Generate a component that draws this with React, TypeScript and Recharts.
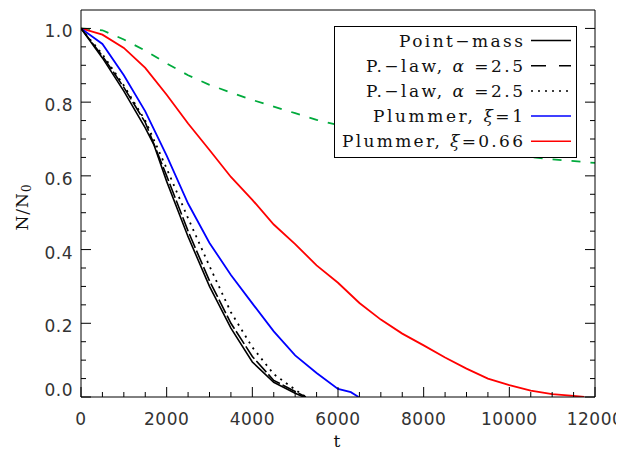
import React from 'react'
import { LineChart, Line, XAxis, YAxis, Legend } from 'recharts'

// point-mass and power-law runs (black)
const tBlack = [0, 500, 1000, 1500, 1700, 2000, 2500, 3000, 3500, 4000, 4500, 5000, 5200]
const pointMass = [1.0, 0.92, 0.83, 0.73, 0.685, 0.585, 0.435, 0.3, 0.187, 0.095, 0.04, 0.01, 0.0]
const tPlaw = [0, 500, 1000, 1500, 2000, 2500, 3000, 3500, 4000, 4500, 5000, 5250]
const plawDashed = [1.0, 0.925, 0.84, 0.745, 0.6, 0.45, 0.315, 0.2, 0.11, 0.045, 0.015, 0.0]
const plawDotted = [1.0, 0.93, 0.845, 0.75, 0.62, 0.485, 0.355, 0.23, 0.135, 0.062, 0.02, 0.0]

// plummer runs
const tBlue = [0, 500, 1000, 1500, 2000, 2500, 3000, 3500, 4000, 4500, 5000, 5500, 6000, 6300, 6480]
const plummer1 = [1.0, 0.958, 0.873, 0.775, 0.655, 0.525, 0.418, 0.331, 0.254, 0.178, 0.113, 0.065, 0.022, 0.013, 0.0]
const tRed = [0, 500, 1000, 1500, 2000, 2500, 3000, 3500, 4000, 4500, 5000, 5500, 6000, 6500, 7000, 7500, 8000, 8500, 9000, 9500, 10000, 10500, 11000, 11500, 11750]
const plummer066 = [1.0, 0.983, 0.947, 0.893, 0.82, 0.742, 0.67, 0.597, 0.535, 0.468, 0.415, 0.357, 0.31, 0.255, 0.21, 0.172, 0.14, 0.107, 0.077, 0.05, 0.032, 0.017, 0.008, 0.003, 0.0]

// green dashed (not in legend)
const tGreen = [0, 500, 1000, 1500, 2000, 2500, 3000, 3500, 4000, 4500, 5000, 5500, 6000, 7000, 8000, 9000, 10000, 11000, 12000]
const greenRun = [1.0, 0.995, 0.97, 0.94, 0.905, 0.873, 0.847, 0.826, 0.806, 0.788, 0.77, 0.752, 0.738, 0.713, 0.69, 0.672, 0.657, 0.645, 0.635]

const xTicks = [0, 500, 1000, 1500, 2000, 2500, 3000, 3500, 4000, 4500, 5000, 5500, 6000, 6500, 7000, 7500, 8000, 8500, 9000, 9500, 10000, 10500, 11000, 11500, 12000]
const xLabels = [0, 2000, 4000, 6000, 8000, 10000, 12000]
const yTicks = [0, 0.05, 0.1, 0.15, 0.2, 0.25, 0.3, 0.35, 0.4, 0.45, 0.5, 0.55, 0.6, 0.65, 0.7, 0.75, 0.8, 0.85, 0.9, 0.95, 1.0]
const yLabels = [0, 0.2, 0.4, 0.6, 0.8, 1.0]

const toData = (ts: number[], ns: number[]) => ts.map((t, i) => ({ t, n: ns[i] }))

const legendItems = [
  { pre: 'Point\u2212mass', greek: '', post: '', color: '#000', dash: undefined as string | undefined, width: 124 },
  { pre: 'P.\u2212law, ', greek: '\u03b1', post: ' =2.5', color: '#000', dash: '15 13', width: 157 },
  { pre: 'P.\u2212law, ', greek: '\u03b1', post: ' =2.5', color: '#000', dash: '2 5', width: 157 },
  { pre: 'Plummer, ', greek: '\u03be', post: '=1', color: '#0000ff', dash: undefined, width: 150 },
  { pre: 'Plummer, ', greek: '\u03be', post: '=0.66', color: '#ff0000', dash: undefined, width: 181 },
]

const tickFont = { fontFamily: 'DejaVu Sans', fontSize: 17, fill: '#333', letterSpacing: 0.5 }
const serif = "'DejaVu Serif', 'Liberation Serif', serif"

function BottomTick(props: any) {
  const { x, y, payload } = props
  const major = xLabels.includes(payload.value)
  return (
    <g>
      <line x1={x} x2={x} y1={y} y2={y - (major ? 10 : 5)} stroke="#000" />
      {major && (
        <text x={x} y={y + 22} textAnchor="middle" dominantBaseline="central" {...tickFont}>
          {payload.value}
        </text>
      )}
    </g>
  )
}

function TopTick(props: any) {
  const { x, y, payload } = props
  const major = xLabels.includes(payload.value)
  return <line x1={x} x2={x} y1={y} y2={y + (major ? 10 : 5)} stroke="#000" />
}

function LeftTick(props: any) {
  const { x, y, payload } = props
  const v = payload.value
  const major = yLabels.some((l) => Math.abs(l - v) < 1e-6)
  return (
    <g>
      <line x1={x} x2={x + (major ? 10 : 5)} y1={y} y2={y} stroke="#000" />
      {major && (
        <text x={x - 8} y={v === 0 ? y - 7 : y + 3} textAnchor="end" dominantBaseline="central" {...tickFont}>
          {v.toFixed(1)}
        </text>
      )}
    </g>
  )
}

function RightTick(props: any) {
  const { x, y, payload } = props
  const major = yLabels.some((l) => Math.abs(l - payload.value) < 1e-6)
  return <line x1={x} x2={x - (major ? 10 : 5)} y1={y} y2={y} stroke="#000" />
}

function XTitle() {
  return (
    <text x={329} y={433} textAnchor="middle" dominantBaseline="central" fontFamily={serif} fontSize={17} fill="#111">
      t
    </text>
  )
}

function YTitle() {
  return (
    <text x={14} y={199} textAnchor="middle" dominantBaseline="central" fontFamily={serif} fontSize={17} fill="#111"
      transform="rotate(-90 14 199)" letterSpacing={1}>
      N/N<tspan fontSize={12} dy={5}>0</tspan>
    </text>
  )
}

function LegendBox() {
  return (
    <div style={{ width: 243, height: 132, border: '1px solid #000', boxSizing: 'border-box', background: '#fff' }}>
      <svg width={241} height={130} style={{ display: 'block' }}>
        {legendItems.map((it, i) => {
          const y = 13.5 + i * 25.2
          return (
            <g key={i}>
              <text x={188} y={y} textAnchor="end" dominantBaseline="central" fontFamily={serif} fontSize={17}
                fill="#111" textLength={it.width} lengthAdjust="spacing">
                {it.pre}
                {it.greek && <tspan fontStyle="italic">{it.greek}</tspan>}
                {it.post}
              </text>
              <line x1={196} x2={236} y1={y} y2={y} stroke={it.color} strokeWidth={1.5} strokeDasharray={it.dash} />
            </g>
          )
        })}
      </svg>
    </div>
  )
}

export default function App() {
  return (
    <LineChart width={616} height={442} margin={{ top: 1, right: 28, bottom: 0, left: 0 }}>
      <XAxis xAxisId={0} type="number" dataKey="t" domain={[0, 12000]} ticks={xTicks} interval={0}
        tick={<BottomTick />} tickSize={0} tickMargin={0} tickLine={false} height={53}
        axisLine={{ stroke: '#000' }} allowDataOverflow label={<XTitle />} />
      <XAxis xAxisId="top" orientation="top" type="number" domain={[0, 12000]} ticks={xTicks} interval={0}
        tick={<TopTick />} tickSize={0} tickMargin={0} tickLine={false} height={1}
        axisLine={{ stroke: '#000' }} allowDataOverflow />
      <YAxis yAxisId={0} type="number" domain={[0, 1.05]} ticks={yTicks} interval={0}
        tick={<LeftTick />} tickSize={0} tickMargin={0} tickLine={false} width={73}
        axisLine={{ stroke: '#000' }} allowDataOverflow label={<YTitle />} />
      <YAxis yAxisId="right" orientation="right" type="number" domain={[0, 1.05]} ticks={yTicks} interval={0}
        tick={<RightTick />} tickSize={0} tickMargin={0} tickLine={false} width={1}
        axisLine={{ stroke: '#000' }} allowDataOverflow />
      <Legend layout="vertical" align="center" verticalAlign="middle" content={<LegendBox />}
        wrapperStyle={{ position: 'absolute', left: 326, top: 18, width: 243, height: 132, margin: 0, padding: 0 }} />
      <Line data={toData(tGreen, greenRun)} dataKey="n" type="linear" stroke="#00aa3c" strokeWidth={1.8}
        strokeDasharray="9 10" dot={false} isAnimationActive={false} legendType="none" />
      <Line data={toData(tRed, plummer066)} dataKey="n" type="linear" stroke="#ff0000" strokeWidth={1.8}
        dot={false} isAnimationActive={false} />
      <Line data={toData(tBlue, plummer1)} dataKey="n" type="linear" stroke="#0000ff" strokeWidth={1.8}
        dot={false} isAnimationActive={false} />
      <Line data={toData(tPlaw, plawDotted)} dataKey="n" type="linear" stroke="#000" strokeWidth={1.8}
        strokeDasharray="2 5" dot={false} isAnimationActive={false} />
      <Line data={toData(tPlaw, plawDashed)} dataKey="n" type="linear" stroke="#000" strokeWidth={1.6}
        strokeDasharray="15 3" dot={false} isAnimationActive={false} />
      <Line data={toData(tBlack, pointMass)} dataKey="n" type="linear" stroke="#000" strokeWidth={1.6}
        dot={false} isAnimationActive={false} />
    </LineChart>
  )
}
